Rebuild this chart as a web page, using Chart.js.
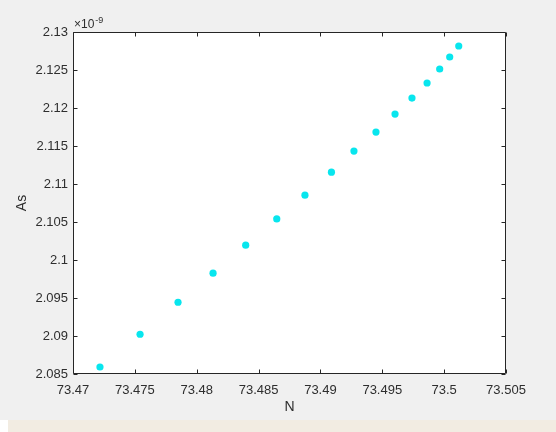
<!DOCTYPE html>
<html>
<head>
<meta charset="utf-8">
<script src="https://cdn.jsdelivr.net/npm/chart.js@4/dist/chart.umd.min.js"></script>
<style>
  html, body { margin: 0; padding: 0; background: #f0f0f0; width: 556px; height: 432px; overflow: hidden; }
  #wrap { position: relative; width: 556px; height: 432px; }
  #c { position: absolute; left: 0; top: 0; }
  #strip { position: absolute; left: 0; top: 420px; width: 556px; height: 12px; background: #ffffff; }
  #strip2 { position: absolute; left: 8px; top: 420px; width: 548px; height: 12px; background: #f2ece2; }
</style>
</head>
<body>
<div id="wrap">
  <canvas id="c" width="556" height="420"></canvas>
  <div id="strip"></div>
  <div id="strip2"></div>
</div>
<script>
// ---- data (As in units of 1e-9) ----
const nValues = [73.47218, 73.47542, 73.47849, 73.48132, 73.48396, 73.48647, 73.48875, 73.49089,
                 73.49271, 73.49449, 73.49603, 73.49740, 73.49862, 73.49964, 73.50045, 73.50118];
const asValues = [2.08592, 2.09023, 2.09444, 2.09826, 2.10195, 2.10541, 2.10853, 2.11156,
                  2.11433, 2.11683, 2.11920, 2.12131, 2.12329, 2.12513, 2.12671, 2.12816];
const xTicks = [73.47, 73.475, 73.48, 73.485, 73.49, 73.495, 73.5, 73.505];
const yTicks = [2.085, 2.09, 2.095, 2.1, 2.105, 2.11, 2.115, 2.12, 2.125, 2.13];
const xLabel = 'N';
const yLabel = 'As';
const yExponent = '-9';

const points = nValues.map((x, i) => ({ x: x, y: asValues[i] }));
const fmt = v => String(Number(v.toFixed(4)));
const FONT = "'Liberation Sans', Arial, Helvetica, sans-serif";
const TXT = '#2e2e2e';

const boxPlugin = {
  id: 'boxPlugin',
  beforeDraw(chart) {
    const { ctx, chartArea: a } = chart;
    ctx.save();
    ctx.fillStyle = '#ffffff';
    ctx.fillRect(a.left, a.top, a.right - a.left, a.bottom - a.top);
    ctx.restore();
  },
  afterDraw(chart) {
    const { ctx, chartArea: a, scales } = chart;
    const L = Math.round(a.left) + 0.5, R = Math.round(a.right) - 0.5;
    const T = Math.round(a.top) + 0.5, B = Math.round(a.bottom) - 0.5;
    ctx.save();
    ctx.strokeStyle = '#262626';
    ctx.lineWidth = 1;
    ctx.beginPath();
    ctx.rect(L, T, R - L, B - T);
    const tl = 4;
    xTicks.forEach(v => {
      const px = Math.round(scales.x.getPixelForValue(v)) + 0.5;
      ctx.moveTo(px, B); ctx.lineTo(px, B - tl);
      ctx.moveTo(px, T); ctx.lineTo(px, T + tl);
    });
    yTicks.forEach(v => {
      const py = Math.round(scales.y.getPixelForValue(v)) + 0.5;
      ctx.moveTo(L, py); ctx.lineTo(L + tl, py);
      ctx.moveTo(R, py); ctx.lineTo(R - tl, py);
    });
    ctx.stroke();
    // exponent label
    ctx.fillStyle = TXT;
    ctx.textBaseline = 'alphabetic';
    ctx.textAlign = 'left';
    ctx.font = '12px ' + FONT;
    const x0 = a.left + 1;
    ctx.fillText('\u00d710', x0, 28);
    const w = ctx.measureText('\u00d710').width;
    ctx.font = '9px ' + FONT;
    ctx.fillText(yExponent, x0 + w + 1, 23);
    ctx.restore();
  }
};

new Chart(document.getElementById('c'), {
  type: 'scatter',
  data: {
    datasets: [{
      data: points,
      backgroundColor: '#08e6ee',
      borderColor: '#08e6ee',
      pointRadius: 3.6,
      pointHoverRadius: 3.6,
      borderWidth: 0
    }]
  },
  options: {
    responsive: false,
    animation: false,
    devicePixelRatio: 1,
    layout: { padding: { left: 0, right: 50, top: 32, bottom: 0 } },
    plugins: { legend: { display: false }, tooltip: { enabled: false } },
    scales: {
      x: {
        type: 'linear',
        min: 73.47, max: 73.505,
        afterBuildTicks: s => { s.ticks = xTicks.map(v => ({ value: v })); },
        afterFit: s => { s.height = 46; },
        grid: { display: false, drawTicks: false },
        border: { display: false },
        ticks: { color: TXT, font: { size: 13, family: FONT }, padding: 9, maxRotation: 0, autoSkip: false, callback: v => fmt(v) },
        title: { display: true, text: xLabel, color: TXT, font: { size: 14, family: FONT }, padding: { top: 0, bottom: 4.6 } }
      },
      y: {
        type: 'linear',
        min: 2.085, max: 2.13,
        afterBuildTicks: s => { s.ticks = yTicks.map(v => ({ value: v })); },
        afterFit: s => { s.width = 73; },
        grid: { display: false, drawTicks: false },
        border: { display: false },
        ticks: { color: TXT, font: { size: 13, family: FONT }, padding: 5, autoSkip: false, callback: v => fmt(v) },
        title: { display: true, text: yLabel, color: TXT, font: { size: 14, family: FONT }, padding: { top: 13.6, bottom: 0 } }
      }
    }
  },
  plugins: [boxPlugin]
});
</script>
</body>
</html>
